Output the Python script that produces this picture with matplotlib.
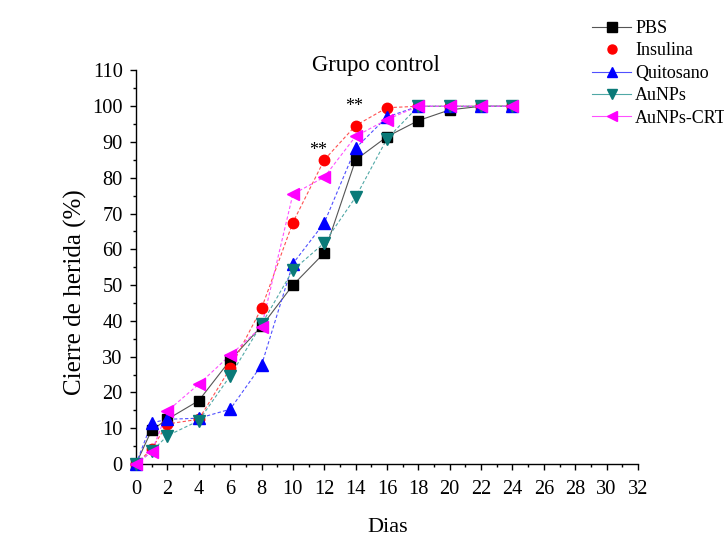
import matplotlib
matplotlib.use("Agg")
import matplotlib.pyplot as plt
from matplotlib.lines import Line2D
from matplotlib.ticker import MultipleLocator

plt.rcParams['font.family'] = ['Liberation Serif', 'DejaVu Serif']

days = [0, 1, 2, 4, 6, 8, 10, 12, 14, 16, 18, 20, 22, 24]
pbs = [0, 9.5, 12.5, 17.7, 29, 38.5, 50, 59, 85, 91.5, 96, 99, 100, 100]
insulina = [0, 4.2, 11.2, 12.5, 26.7, 43.5, 67.5, 85, 94.6, 99.6, 100, 100, 100, 100]
quitosano = [0, 11.5, 12.5, 12.8, 15.3, 27.6, 56, 67.4, 88.3, 97, 100, 100, 100, 100]
aunps = [0, 3.5, 7.9, 12.1, 24.6, 39, 54.2, 61.8, 74.6, 90.9, 100, 100, 100, 100]
aunps_crt = [0, 3.4, 14.8, 22.3, 30.4, 38.3, 75.4, 80.2, 91.6, 96.3, 100, 100, 100, 100]
labels = ['PBS', 'Insulina', 'Quitosano', 'AuNPs', 'AuNPs-CRT']
xticks = list(range(0, 33, 2))
yticks = list(range(0, 111, 10))
stars = [(11.6, 87.5), (13.9, 99.8)]

series = [pbs, insulina, quitosano, aunps, aunps_crt]
colors = ['black', 'red', 'blue', '#0a7a78', 'magenta']
linecolors = ['#555555', '#ff5050', '#5050ff', '#50a8a6', '#ff50ff']
markers = ['s', 'o', '^', 'v', '<']
msizes = [7, 7.5, 8, 8, 8]
styles = ['-', (0, (3, 2)), (0, (3, 2)), (0, (3, 2)), (0, (3, 2))]

fig = plt.figure(figsize=(7.24, 5.48), dpi=100)
ax = fig.add_axes([136/724, 1-464/548, (638-136)/724, (464-70.5)/548])

for vals, c, lc, m, ms, ls in zip(series, colors, linecolors, markers, msizes, styles):
    ax.plot(days, vals, linestyle=ls, color=lc, linewidth=0.8, zorder=2, clip_on=False)
    ax.plot(days, vals, linestyle='none', marker=m, color=c, markersize=ms, zorder=3,
            clip_on=False)

for x, y in stars:
    ax.text(x, y, '**', ha='center', va='center', fontsize=13)

ax.set_xlim(0, 32)
ax.set_ylim(0, 110)
ax.set_xticks(xticks)
ax.set_yticks(yticks)
ax.xaxis.set_minor_locator(MultipleLocator(1))
ax.yaxis.set_minor_locator(MultipleLocator(5))
ax.tick_params(which='major', direction='out', length=4.5, width=1, labelsize=14.7, pad=5)
ax.tick_params(axis='x', which='major', pad=7)
ax.tick_params(which='minor', direction='out', length=2.5, width=1)
for s in ['top', 'right']:
    ax.spines[s].set_visible(False)
for s in ['left', 'bottom']:
    ax.spines[s].set_linewidth(1.0)

fig.text(388/724, 1-531.7/548, 'Dias', ha='center', va='baseline', fontsize=16)
fig.text(75/724, 1-292.5/548, 'Cierre de herida (%)', ha='center', va='center',
         rotation=90, fontsize=18)
fig.text(376/724, 1-70.7/548, 'Grupo control', ha='center', va='baseline', fontsize=16.3)

handles = []
for i, (c, lc, m) in enumerate(zip(colors, linecolors, markers)):
    ls = 'none' if i == 1 else '-'
    handles.append(Line2D([0], [0], color=lc, linestyle=ls, linewidth=0.8,
                          marker=m, markerfacecolor=c, markeredgecolor=c, markersize=6.5))
fig.legend(handles, labels, loc='upper left', bbox_to_anchor=(591.7/724, 1-20/548),
           frameon=False, fontsize=13, borderpad=0, borderaxespad=0,
           handlelength=2.2, handletextpad=0.2, labelspacing=0.3)

fig.savefig('out.png', dpi=100)
